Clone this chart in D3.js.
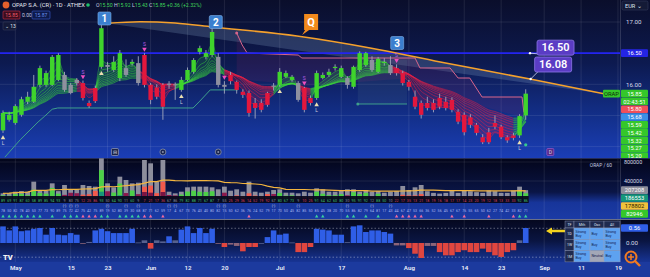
<!DOCTYPE html>
<html>
<head>
<meta charset="utf-8">
<script src="https://cdn.jsdelivr.net/npm/d3@7"></script>
<style>
html, body { margin: 0; padding: 0; background: #0a0e2c; }
svg { display: block; font-family: Roboto, "Noto Sans", sans-serif; }
</style>
</head>
<body>
<div id="chart"></div>
<script>
// OPAP daily candles, 27 Apr - 29 Aug 2023 (bar index 0..85)
const opens  = [15.26,15.43,15.38,15.51,15.72,15.72,15.99,15.99,15.99,16.07,16.15,15.86,16.02,16.02,15.70,15.73,16.28,16.31,16.23,16.10,16.26,16.33,16.34,16.47,15.99,15.95,15.99,15.99,16.00,15.91,16.07,16.20,16.52,16.44,16.47,16.44,15.99,16.15,16.04,15.88,15.86,15.70,15.70,15.67,15.96,15.99,16.12,16.07,16.02,15.94,15.78,15.78,16.10,16.15,16.26,16.12,16.10,15.96,16.23,16.31,16.39,16.20,16.34,16.31,16.26,16.18,16.04,15.80,15.70,15.70,15.70,15.78,15.72,15.75,15.56,15.51,15.47,15.35,15.15,15.23,15.38,15.32,15.15,15.18,15.18,15.50];
const highs  = [15.58,15.56,15.68,15.80,15.88,16.15,16.30,16.22,16.47,16.50,16.20,16.02,16.10,16.06,15.74,15.98,16.95,16.36,16.45,16.55,16.40,16.40,16.45,16.50,16.02,16.00,16.02,16.05,16.03,16.12,16.27,16.42,16.62,16.55,16.90,16.50,16.05,16.20,16.06,15.92,15.90,15.78,15.76,15.88,16.02,16.26,16.22,16.15,16.05,15.96,15.82,16.22,16.19,16.25,16.32,16.30,16.13,16.30,16.53,16.52,16.45,16.44,16.42,16.45,16.32,16.22,16.07,15.90,15.74,15.80,15.76,15.85,15.80,15.79,15.60,15.55,15.52,15.38,15.20,15.30,15.50,15.35,15.18,15.22,15.52,15.92];
const lows   = [15.22,15.40,15.35,15.48,15.68,15.70,15.95,15.96,15.97,16.05,15.88,15.84,15.98,15.74,15.62,15.70,16.25,16.20,16.20,16.05,16.12,16.30,15.98,15.95,15.68,15.76,15.43,15.93,15.75,15.88,16.05,16.17,16.48,16.40,16.44,15.95,15.85,16.00,15.85,15.78,15.48,15.45,15.55,15.64,15.90,15.96,16.10,16.04,15.72,15.55,15.66,15.75,16.08,16.12,16.22,16.10,15.93,15.93,16.20,16.28,16.20,16.18,16.30,16.15,16.14,15.98,15.90,15.60,15.45,15.58,15.55,15.60,15.58,15.55,15.36,15.18,15.30,15.18,15.04,15.04,15.28,15.12,15.06,15.10,15.14,15.43];
const closes = [15.54,15.51,15.65,15.76,15.80,15.96,16.26,16.18,16.44,16.47,15.91,15.99,16.07,15.78,15.65,15.94,16.90,16.28,16.36,16.50,16.15,16.36,16.02,15.99,15.75,15.80,15.64,16.01,15.99,16.07,16.23,16.39,16.58,16.50,16.84,15.99,15.96,16.05,15.91,15.83,15.54,15.62,15.59,15.86,15.98,16.20,16.18,16.12,15.75,15.59,15.70,16.18,16.15,16.20,16.28,16.26,15.99,16.28,16.50,16.50,16.23,16.41,16.36,16.18,16.18,16.02,15.96,15.64,15.51,15.62,15.59,15.64,15.62,15.59,15.40,15.23,15.35,15.22,15.07,15.07,15.32,15.15,15.10,15.14,15.49,15.85];
// g = bull trend, r = bear trend, n = neutral
const candleState = "gggggggggg" + "nnnrrrgnggngn" + "rrrrnngggggg" + "nnrrrrrrrn" + "gggnrrgggggn" + "gggnggn" + "rrrrrrrrrrrrrrrrrrrr" + "gg";
const volumes = [140e3,147e3,175e3,187e3,175e3,386e3,210e3,196e3,351e3,187e3,316e3,225e3,225e3,316e3,295e3,281e3,877e3,351e3,267e3,491e3,421e3,351e3,365e3,842e3,772e3,386e3,842e3,175e3,140e3,175e3,267e3,281e3,281e3,281e3,267e3,225e3,281e3,196e3,225e3,175e3,386e3,175e3,154e3,175e3,210e3,225e3,154e3,154e3,140e3,175e3,154e3,246e3,225e3,175e3,175e3,189e3,225e3,225e3,175e3,210e3,175e3,189e3,154e3,175e3,189e3,295e3,210e3,267e3,316e3,185e3,150e3,135e3,150e3,200e3,150e3,200e3,185e3,165e3,150e3,200e3,185e3,150e3,150e3,200e3,281e3,207208];
const oscValues = [0.62,0.47,0.62,0.44,0.47,0.53,0.56,0.31,0.56,0.31,0.29,0.37,0.31,-0.02,0.04,0.47,0.53,0.44,0.37,0.37,0.37,0.53,0.02,0.10,-0.21,0.10,0.06,0.25,0.10,0.50,0.62,0.37,0.56,0.37,0.53,-0.03,-0.15,-0.06,-0.11,-0.31,-0.15,-0.15,0.0,0.22,0.47,0.31,0.35,0.02,-0.34,-0.34,-0.15,0.53,0.50,0.47,0.31,0.31,0.03,0.62,0.66,0.41,0.47,0.47,0.41,0.35,-0.09,-0.09,-0.19,-0.40,-0.56,-0.11,-0.11,-0.34,-0.46,-0.46,-0.34,-0.27,-0.34,-0.34,-0.21,-0.34,-0.46,-0.52,-0.34,-0.27,0.10,0.56];

// time axis
const tickIdx  = [2,11,17,24,30,36,45,55,66,75,81,88,94,100];
const tickText = ["May","15","23","Jun","12","20","Jul","17","Aug","14","23","Sep","11","19"];

// drawings (bar index / price)
const trendIdx = [16.9,22.3,28.0,34.1,47.8,59.7,71.1,85.7,97.9];
const trendPx  = [16.98,17.005,16.984,16.92,16.775,16.583,16.358,16.085,15.844];
const stopIdx = [38.0,38.9,39.7,48.0,48.6,67.0,67.8,72.7,74.0,75.9,77.9,84.4,84.7];
const stopPx  = [16.823,16.63,16.502,16.47,16.422,16.422,16.262,16.262,16.101,16.101,15.796,15.796,15.55];
const supIdx = [0.3,2.8,5.7,6.8,8.0,8.9,30.9,32.0,33.7,38.2];
const supPx  = [14.83,15.11,15.395,15.49,15.60,15.62,15.62,15.73,15.91,15.91];
const sup2Idx = [57.7,65.7];
const sup2Px  = [15.684,15.684];
const boxIdx = [57.7,65.7];
const boxPx = [16.39,15.684];
const hLevel = 16.50;
const waveLabels = ["1","2","3"];
const waveIdx = [16.5,34.6,64.1];
const wavePx  = [17.056,17.0,16.663];
const qIdx = 50.1, qPx = 16.984;
const calloutText = ["16.50","16.08"];
const calloutIdx = [85.7,85.8];
const calloutPx = [16.50,16.085];

const buyIdx = [0,16,29,45,51,84];
const buyText = ["L","","L","","L","L"];
const sellIdx = [13,23,36,49,64];
const sellText = ["S","S","","S","S"];
const eventIdx = [18.2,26,35,89];
const eventKind = ["box","dot","dot","D"];

// right axis tags
const priceTags = ["02:43:51","15.80","15.68","15.59","15.42","15.32","15.27","15.20"];
const priceTagColors = ["#35c72a","#ef4f5a","#3b8fe6","#35c72a","#35c72a","#35c72a","#35c72a","#35c72a"];
const volTags = ["207208","186553","178802","82946"];
const volTagColors = ["#8d8e9c","#16977a","#f0c23c","#35c72a"];

// ratings table
const tableCols = ["TF","Mth","Osc","All"];
const tableRows = ["1D","1W","1M"];
const ratings = [["Strong Buy","Buy","Strong Buy"],["Strong Buy","Buy","Strong Buy"],["Strong Buy","Neutral","Buy"]];

const W = 650, H = 277, plotW = 620;
const n = closes.length;
const last = n - 1;

const svg = d3.select("#chart").append("svg").attr("width", W).attr("height", H);
const defs = svg.append("defs");

function grad(id, stops) {
  const g = defs.append("linearGradient").attr("id", id)
    .attr("x1", 0).attr("y1", 0).attr("x2", 0).attr("y2", 1);
  stops.forEach(s => g.append("stop").attr("offset", s[0]).attr("stop-color", s[1]));
}
grad("gMain", [[0, "#0a0e2b"], [0.4, "#0d1a50"], [0.75, "#13308c"], [1, "#1b3eb6"]]);
grad("gVol", [[0, "#03051a"], [0.55, "#0a1546"], [0.72, "#17359a"], [1, "#1b3ba6"]]);
grad("gOsc", [[0, "#05081f"], [0.5, "#0a1542"], [1, "#173494"]]);

defs.append("clipPath").attr("id", "clipMain").append("rect")
  .attr("x", 0).attr("y", 0).attr("width", plotW).attr("height", 158);
defs.append("clipPath").attr("id", "clipTags").append("rect")
  .attr("x", 0).attr("y", 0).attr("width", W).attr("height", 158);

// scales
const x = d3.scaleLinear().domain([-0.49, 100.33]).range([0, plotW]);
const yP = d3.scaleLinear().domain([15, 17]).range([146.6, 22]);
const yV = d3.scaleLinear().domain([0, 800000]).range([200, 162]);
const yO = d3.scaleLinear().domain([0, 0.56]).range([243, 228]);

// backgrounds
svg.append("rect").attr("width", W).attr("height", 158).attr("fill", "url(#gMain)");
svg.append("rect").attr("y", 158).attr("width", W).attr("height", 62).attr("fill", "url(#gVol)");
svg.append("rect").attr("y", 220).attr("width", W).attr("height", 42).attr("fill", "url(#gOsc)");
svg.append("rect").attr("y", 262).attr("width", W).attr("height", 15).attr("fill", "#1c3a9e");

// grid
const grid = svg.append("g").attr("stroke", "rgba(255,255,255,0.09)").attr("stroke-width", 1);
tickIdx.forEach(t => grid.append("line").attr("x1", x(t)).attr("x2", x(t)).attr("y1", 0).attr("y2", 262));
[15, 15.5, 16, 17].forEach(p => grid.append("line").attr("x1", 0).attr("x2", plotW).attr("y1", yP(p)).attr("y2", yP(p)));
[400000, 800000].forEach(v => grid.append("line").attr("x1", 0).attr("x2", plotW).attr("y1", yV(v)).attr("y2", yV(v)));
svg.append("line").attr("x1", plotW + 0.5).attr("x2", plotW + 0.5).attr("y1", 0).attr("y2", 262)
  .attr("stroke", "rgba(255,255,255,0.14)");
svg.append("line").attr("x1", 0).attr("x2", W).attr("y1", 158.5).attr("y2", 158.5).attr("stroke", "#242c58");
svg.append("line").attr("x1", 0).attr("x2", W).attr("y1", 219.5).attr("y2", 219.5).attr("stroke", "#6a7086");

const main = svg.append("g").attr("clip-path", "url(#clipMain)");

// EMA ribbon
function ema(arr, len) {
  const k = 2 / (len + 1);
  const out = [];
  arr.forEach((v, i) => out.push(i ? out[i - 1] + k * (v - out[i - 1]) : v));
  return out;
}
const ribbonLens = [3, 5, 7, 9, 11, 13, 15, 17, 19, 21];
const ribbons = ribbonLens.map(l => ema(closes, l));
const trend = [];
candleState.split("").forEach((s, i) => trend.push(s === "n" ? (i ? trend[i - 1] : "g") : s));
const runs = [];
trend.forEach((t, i) => {
  if (!runs.length || runs[runs.length - 1].t !== t) runs.push({ t, idx: i ? [i - 1, i] : [i] });
  else runs[runs.length - 1].idx.push(i);
});
const ribbonColor = { g: "#3bd83a", r: "#ea1f45" };
const slow = ribbons[ribbons.length - 1], fast = ribbons[0];

// trend wedge (under everything)
const trendPts = trendIdx.map((t, i) => [x(t), yP(trendPx[i])]);
const smooth = d3.line().curve(d3.curveMonotoneX);
main.append("path").attr("d", smooth(trendPts) + "Z")
  .attr("fill", "rgba(150,180,215,0.22)");

// trailing stop area
function slowAt(t) {
  const i0 = Math.floor(t), f = t - i0;
  const a = slow[Math.min(i0, last)], b = slow[Math.min(i0 + 1, last)];
  return a + (b - a) * f;
}
main.append("path")
  .attr("d", d3.area().x(d => x(d[0])).y0(d => yP(Math.min(slowAt(d[0]), d[1]))).y1(d => yP(d[1]))(stopIdx.map((t, i) => [t, stopPx[i]])))
  .attr("fill", "rgba(130,40,100,0.18)");
main.append("rect")
  .attr("x", x(boxIdx[0])).attr("width", x(boxIdx[1]) - x(boxIdx[0]))
  .attr("y", yP(boxPx[0])).attr("height", yP(boxPx[1]) - yP(boxPx[0]))
  .attr("fill", "rgba(80,120,140,0.16)");

runs.forEach(run => {
  main.append("path")
    .attr("d", d3.area().x(i => x(i)).y0(i => yP(slow[i])).y1(i => yP(fast[i]))(run.idx))
    .attr("fill", ribbonColor[run.t]).attr("opacity", 0.16);
  ribbons.forEach(r => {
    main.append("path")
      .attr("d", d3.line().x(i => x(i)).y(i => yP(r[i])).curve(d3.curveMonotoneX)(run.idx))
      .attr("fill", "none").attr("stroke", ribbonColor[run.t]).attr("stroke-width", 0.8).attr("opacity", 0.6);
  });
});

main.append("path")
  .attr("d", d3.line()(stopIdx.map((t, i) => [x(t), yP(stopPx[i])])))
  .attr("fill", "none").attr("stroke", "#d9668c").attr("stroke-width", 1);
main.append("circle").attr("cx", x(stopIdx[0])).attr("cy", yP(stopPx[0])).attr("r", 1.5).attr("fill", "#d9668c");

// support lines
main.append("path")
  .attr("d", d3.line()(supIdx.map((t, i) => [x(t), yP(supPx[i])])))
  .attr("fill", "none").attr("stroke", "#3f9f8c").attr("stroke-width", 1);
main.append("path")
  .attr("d", d3.line()(sup2Idx.map((t, i) => [x(t), yP(sup2Px[i])])))
  .attr("fill", "none").attr("stroke", "#3f9f8c").attr("stroke-width", 1);
main.append("circle").attr("cx", x(sup2Idx[0])).attr("cy", yP(sup2Px[0])).attr("r", 1.5).attr("fill", "#3f9f8c");

// horizontal level
main.append("line").attr("x1", 0).attr("x2", plotW).attr("y1", yP(hLevel)).attr("y2", yP(hLevel))
  .attr("stroke", "#2424f0").attr("stroke-width", 1.6);

main.append("path").attr("d", smooth(trendPts))
  .attr("fill", "none").attr("stroke", "#f5a12c").attr("stroke-width", 1.6);

// candles
const stateColor = { g: "#3fd42c", r: "#e3173d", n: "#8e909f" };
const candles = main.append("g");
closes.forEach((c, i) => {
  const o = opens[i];
  candles.append("line").attr("x1", x(i)).attr("x2", x(i))
    .attr("y1", yP(highs[i])).attr("y2", yP(lows[i]))
    .attr("stroke", "#a3a8bd").attr("stroke-width", 0.9);
  candles.append("rect").attr("x", x(i) - 2.2).attr("width", 4.4)
    .attr("y", yP(Math.max(o, c))).attr("height", Math.max(1, Math.abs(yP(o) - yP(c))))
    .attr("fill", stateColor[candleState[i]]);
});

// signals
buyIdx.forEach((b, k) => {
  const yy = yP(lows[b]) + 5;
  main.append("path").attr("d", d3.symbol(d3.symbolTriangle, 9)())
    .attr("transform", `translate(${x(b)},${yy})`).attr("fill", "#eadfb2");
  if (buyText[k]) main.append("text").attr("x", x(b)).attr("y", yy + 7).attr("text-anchor", "middle")
    .attr("font-size", 5).attr("fill", "#c9ccdc").text(buyText[k]);
});
main.append("circle").attr("cx", x(last)).attr("cy", yP(lows[last]) + 25).attr("r", 1.6).attr("fill", "#36c890");
sellIdx.forEach((s, k) => {
  const yy = yP(highs[s]) - 4;
  main.append("path").attr("d", d3.symbol(d3.symbolTriangle, 9)())
    .attr("transform", `translate(${x(s)},${yy}) rotate(180)`).attr("fill", "#f04fc0");
  if (sellText[k]) main.append("text").attr("x", x(s)).attr("y", yy - 3).attr("text-anchor", "middle")
    .attr("font-size", 5).attr("fill", "#b45ee6").text(sellText[k]);
});

// events on the bottom of the price pane
eventIdx.forEach((e, k) => {
  const g = svg.append("g").attr("transform", `translate(${x(e)},152)`);
  if (eventKind[k] === "dot") {
    g.append("circle").attr("r", 3).attr("fill", "#1a2550").attr("stroke", "#8890aa").attr("stroke-width", 0.8);
    g.append("circle").attr("r", 1).attr("fill", "#8890aa");
  } else {
    g.append("rect").attr("x", -3.5).attr("y", -3.5).attr("width", 7).attr("height", 7).attr("rx", 1)
      .attr("fill", eventKind[k] === "D" ? "#5b2b86" : "#1d2448").attr("stroke", eventKind[k] === "D" ? "#9a5ad0" : "#9aa0b8").attr("stroke-width", 0.7);
    g.append("text").attr("y", 2).attr("text-anchor", "middle").attr("font-size", 5).attr("fill", "#d0d4e4")
      .text(eventKind[k] === "D" ? "D" : "⊟");
  }
});

// wave labels
waveLabels.forEach((w, k) => {
  const g = svg.append("g").attr("transform", `translate(${x(waveIdx[k])},${yP(wavePx[k])})`);
  g.append("rect").attr("x", -6.5).attr("y", -6.5).attr("width", 13).attr("height", 13).attr("rx", 1.5)
    .attr("fill", "#3b7fcf").attr("stroke", "#7fb2ea").attr("stroke-width", 0.6);
  g.append("text").attr("y", 3.6).attr("text-anchor", "middle").attr("font-size", 10).attr("font-weight", 700)
    .attr("fill", "#ffffff").text(w);
});
const qg = svg.append("g").attr("transform", `translate(${x(qIdx)},${yP(qPx)})`);
qg.append("path").attr("d", "M-7,-9 H7 V7 H-2 L-9,12 L-6,7 H-7 Z").attr("fill", "#f28a1c");
qg.append("text").attr("y", 3).attr("text-anchor", "middle").attr("font-size", 11).attr("font-weight", 700)
  .attr("fill", "#ffffff").text("Q");

// price callouts
const calloutOff = [[7, -13], [4, -22]];
calloutText.forEach((t, k) => {
  const ax = x(calloutIdx[k]), ay = yP(calloutPx[k]);
  const bx = ax + calloutOff[k][0], by = ay + calloutOff[k][1];
  svg.append("line").attr("x1", ax).attr("y1", ay).attr("x2", bx + 4).attr("y2", by + 14)
    .attr("stroke", "#d8dcf0").attr("stroke-width", 0.8);
  svg.append("circle").attr("cx", ax).attr("cy", ay).attr("r", 1.2).attr("fill", "#ffffff");
  svg.append("rect").attr("x", bx).attr("y", by).attr("width", 37).attr("height", 15).attr("rx", 2)
    .attr("fill", "#5a3cc4").attr("stroke", "#8d76e8").attr("stroke-width", 0.8);
  svg.append("text").attr("x", bx + 18.5).attr("y", by + 11.3).attr("text-anchor", "middle")
    .attr("font-size", 11).attr("font-weight", 600).attr("fill", "#ffffff").text(t);
});

// volume pane
const volMA = volumes.map((v, i) => d3.mean(volumes.slice(Math.max(0, i - 19), i + 1)));
const buyFrac = closes.map((c, i) => (c - lows[i]) / Math.max(0.01, highs[i] - lows[i]));
const midColor = { g: "#4dd048", r: "#f25a4c", n: "#8c1a4c" };
const lowColor = { g: "#16977a", r: "#7c1442", n: "#16977a" };
const vol = svg.append("g");
volumes.forEach((v, i) => {
  const s = candleState[i];
  vol.append("rect").attr("x", x(i) - 2.4).attr("width", 4.8).attr("y", yV(v)).attr("height", yV(0) - yV(v)).attr("fill", "#8d8e9c");
  const mid = v * (0.3 + 0.45 * buyFrac[i]);
  vol.append("rect").attr("x", x(i) - 2.4).attr("width", 4.8).attr("y", yV(mid)).attr("height", yV(0) - yV(mid)).attr("fill", midColor[s]);
  const low = v * 0.2;
  vol.append("rect").attr("x", x(i) - 2.4).attr("width", 4.8).attr("y", yV(low)).attr("height", yV(0) - yV(low)).attr("fill", lowColor[s]);
});
vol.append("path").attr("d", d3.line().x((d, i) => x(i)).y(d => yV(d))(volMA))
  .attr("fill", "none").attr("stroke", "#f3b53e").attr("stroke-width", 1.2);

// stats rows under the volume
svg.append("rect").attr("x", 0).attr("y", 196).attr("width", x(last) + 3).attr("height", 7).attr("fill", "#07081a").attr("opacity", 0.92);
const rowCol = { g: "#3fbf6a", r: "#d8405a", n: "#8d8e9c" };
closes.forEach((c, i) => {
  svg.append("text").attr("x", x(i)).attr("y", 201.5).attr("text-anchor", "middle").attr("font-size", 3.6)
    .attr("fill", rowCol[candleState[i]]).text(Math.round(100 * buyFrac[i]));
  svg.append("text").attr("x", x(i)).attr("y", 212).attr("text-anchor", "middle").attr("font-size", 3.6)
    .attr("fill", "#a9b6ef").text(Math.round(100 * Math.abs(c - opens[i]) / Math.max(0.01, highs[i] - lows[i])));
  if (candleState[i] === "n") svg.append("text").attr("x", x(i)).attr("y", 207).attr("text-anchor", "middle")
    .attr("font-size", 3.6).attr("fill", "#c8cde8").text("(-)");
  if (volumes[i] >= volMA[i]) svg.append("path").attr("d", d3.symbol(d3.symbolTriangle, 5)())
    .attr("transform", `translate(${x(i)},216.5)`).attr("fill", candleState[i] === "r" ? "#f06aa0" : "#3ad1a0");
});

// oscillator pane
[0.55, -0.53].forEach(v => svg.append("line").attr("x1", 0).attr("x2", plotW).attr("y1", yO(v)).attr("y2", yO(v))
  .attr("stroke", "rgba(255,255,255,0.35)").attr("stroke-dasharray", "1.5,2"));
oscValues.forEach((v, i) => {
  const col = v > 0.12 ? "#2f5ee6" : v < -0.12 ? "#e0463f" : (v >= 0 ? "#56618f" : "#8c6478");
  svg.append("rect").attr("x", x(i) - 2.8).attr("width", 5.6)
    .attr("y", Math.min(yO(v), yO(0))).attr("height", Math.max(0.8, Math.abs(yO(v) - yO(0))))
    .attr("fill", col);
});
svg.append("text").attr("x", 3).attr("y", 260).attr("font-size", 7.5).attr("font-weight", 900)
  .attr("fill", "#f2f2f2").text("TV");

// arrow + ratings table
svg.append("path").attr("d", "M546,231 L552,227.5 L552,229.8 L565,229.8 L565,232.2 L552,232.2 L552,234.5 Z").attr("fill", "#f3d21e");
const colW = [9, 16, 14, 16], tx0 = 565, ty0 = 221, headH = 7, rowH = 11.3;
let cx = tx0;
const colX = colW.map(w => { const v = cx; cx += w; return v; });
tableCols.forEach((c, j) => {
  svg.append("rect").attr("x", colX[j]).attr("y", ty0).attr("width", colW[j]).attr("height", headH)
    .attr("fill", "#1f2a4e").attr("stroke", "#9aa2bc").attr("stroke-width", 0.4);
  svg.append("text").attr("x", colX[j] + colW[j] / 2).attr("y", ty0 + 4.8).attr("text-anchor", "middle")
    .attr("font-size", 3.6).attr("fill", "#dfe4f4").text(c);
});
tableRows.forEach((r, i) => {
  const yy = ty0 + headH + i * rowH;
  svg.append("rect").attr("x", colX[0]).attr("y", yy).attr("width", colW[0]).attr("height", rowH)
    .attr("fill", "#1f2a4e").attr("stroke", "#9aa2bc").attr("stroke-width", 0.4);
  svg.append("text").attr("x", colX[0] + colW[0] / 2).attr("y", yy + 7).attr("text-anchor", "middle")
    .attr("font-size", 3.6).attr("fill", "#dfe4f4").text(r);
  ratings[i].forEach((val, j) => {
    svg.append("rect").attr("x", colX[j + 1]).attr("y", yy).attr("width", colW[j + 1]).attr("height", rowH)
      .attr("fill", val === "Neutral" ? "#a3a7b6" : "#5ea2f0").attr("stroke", "#9aa2bc").attr("stroke-width", 0.4);
    const words = val.split(" ");
    words.forEach((w, k) => svg.append("text").attr("x", colX[j + 1] + 1.5)
      .attr("y", yy + (words.length > 1 ? 4.6 + k * 4 : 6.6)).attr("font-size", 3.6).attr("fill", "#12204a").text(w));
  });
});

// zoom button
svg.append("circle").attr("cx", 631).attr("cy", 257).attr("r", 5.5).attr("fill", "none").attr("stroke", "#f07a22").attr("stroke-width", 2);
svg.append("line").attr("x1", 635).attr("y1", 261).attr("x2", 640).attr("y2", 266).attr("stroke", "#f07a22").attr("stroke-width", 2.4);
svg.append("path").attr("d", "M628,257 H634 M631,254 V260").attr("stroke", "#f07a22").attr("stroke-width", 1.6);

// axes
const axisStyle = g => {
  g.select(".domain").remove();
  g.selectAll("text").attr("fill", "#d6dae8").attr("font-size", 6.2).attr("font-family", "Roboto, sans-serif");
};
svg.append("g").attr("transform", `translate(${plotW + 3},0)`)
  .call(d3.axisRight(yP).tickValues([16, 17]).tickSize(0).tickFormat(d3.format(".2f"))).call(axisStyle);
svg.append("g").attr("transform", `translate(${plotW + 1},0)`)
  .call(d3.axisRight(yV).tickValues([400000, 800000]).tickSize(0).tickFormat(d3.format("d"))).call(axisStyle)
  .selectAll("text").attr("font-size", 5.4);
svg.append("g").attr("transform", `translate(${plotW + 3},0)`)
  .call(d3.axisRight(yO).tickValues([0]).tickSize(0).tickFormat(d3.format(".2f"))).call(axisStyle);
svg.append("g").attr("transform", "translate(0,262)")
  .call(d3.axisBottom(x).tickValues(tickIdx).tickSize(0).tickPadding(4).tickFormat((d, i) => tickText[i]))
  .call(axisStyle).selectAll("text").attr("font-weight", 600).attr("fill", "#eef1fa");

// axis tags
function tag(parent, yy, txt, bg, fg, xx, w) {
  parent.append("rect").attr("x", xx).attr("y", yy - 3.8).attr("width", w).attr("height", 7.6).attr("rx", 1).attr("fill", bg);
  parent.append("text").attr("x", xx + w / 2).attr("y", yy + 2.1).attr("text-anchor", "middle")
    .attr("font-size", 5.8).attr("fill", fg).text(txt);
}
const mainTags = svg.append("g").attr("clip-path", "url(#clipTags)");
tag(mainTags, yP(hLevel), d3.format(".2f")(hLevel), "#2424e6", "#ffffff", 621, 27);
const closeY = yP(closes[last]);
tag(mainTags, closeY, d3.format(".2f")(closes[last]), "#35c72a", "#ffffff", 621, 27);
tag(mainTags, closeY, "ORAP", "#35c72a", "#0c2a0c", 603, 17);
priceTags.forEach((t, k) => tag(mainTags, closeY + 7.8 * (k + 1), t, priceTagColors[k], "#ffffff", 621, 27));
volTags.forEach((t, k) => tag(svg, yV(+volTags[0]) + 7.9 * k, t, volTagColors[k], k === 2 ? "#2a2000" : "#ffffff", 621, 27));
tag(svg, yO(oscValues[last]), d3.format(".2f")(oscValues[last]), "#2f5ee6", "#ffffff", 621, 27);
svg.append("text").attr("x", 612).attr("y", 166.5).attr("text-anchor", "end").attr("font-size", 4.8)
  .attr("fill", "#c8cde0").text("ORAP / 60");
svg.append("rect").attr("x", 622).attr("y", 1).attr("width", 26).attr("height", 9).attr("rx", 1.5).attr("fill", "#141a36").attr("stroke", "#3a4266").attr("stroke-width", 0.5);
svg.append("text").attr("x", 625).attr("y", 7.5).attr("font-size", 5.6).attr("fill", "#dfe3f0").text("EUR ⌄");

// header
const chg = closes[last] - closes[last - 1];
svg.append("circle").attr("cx", 6).attr("cy", 5).attr("r", 3.4).attr("fill", "#e4602c");
svg.append("text").attr("x", 12).attr("y", 7.2).attr("font-size", 5.8).attr("fill", "#e6e9f4")
  .text("OPAP S.A. (CR) · 1D · ATHEX");
svg.append("circle").attr("cx", 88).attr("cy", 5).attr("r", 1.8).attr("fill", "#1fbf6a");
const ohlc = svg.append("text").attr("x", 96).attr("y", 7.2).attr("font-size", 5.2);
[["O", opens[last]], ["H", highs[last]], ["L", lows[last]], ["C", closes[last]]].forEach(([k, v]) => {
  ohlc.append("tspan").attr("fill", "#c8cce0").text(k);
  ohlc.append("tspan").attr("fill", "#3fd45a").text(d3.format(".2f")(v) + " ");
});
ohlc.append("tspan").attr("fill", "#3fd45a")
  .text(`+${d3.format(".2f")(chg)} (+${d3.format(".2f")(100 * chg / closes[last - 1])}%)`);
svg.append("rect").attr("x", 3).attr("y", 11).attr("width", 17).attr("height", 8).attr("rx", 1).attr("fill", "#3a0d1f").attr("stroke", "#cf3048").attr("stroke-width", 0.6);
svg.append("text").attr("x", 11.5).attr("y", 16.8).attr("text-anchor", "middle").attr("font-size", 5).attr("fill", "#f25c6c").text(d3.format(".2f")(closes[last]));
svg.append("text").attr("x", 22).attr("y", 16.8).attr("font-size", 5).attr("fill", "#c8cce0").text("0.00");
svg.append("rect").attr("x", 32).attr("y", 11).attr("width", 18).attr("height", 8).attr("rx", 1).attr("fill", "#0e1a4a").attr("stroke", "#3a5ad0").attr("stroke-width", 0.6);
svg.append("text").attr("x", 41).attr("y", 16.8).attr("text-anchor", "middle").attr("font-size", 5).attr("fill", "#6a90f0").text("15.87");
svg.append("rect").attr("x", 3).attr("y", 22).attr("width", 13).attr("height", 8).attr("rx", 1).attr("fill", "#141a38").attr("stroke", "#3a4060").attr("stroke-width", 0.5);
svg.append("text").attr("x", 5).attr("y", 27.8).attr("font-size", 5).attr("fill", "#dfe3f0").text("⌄ 13");
</script>
</body>
</html>
